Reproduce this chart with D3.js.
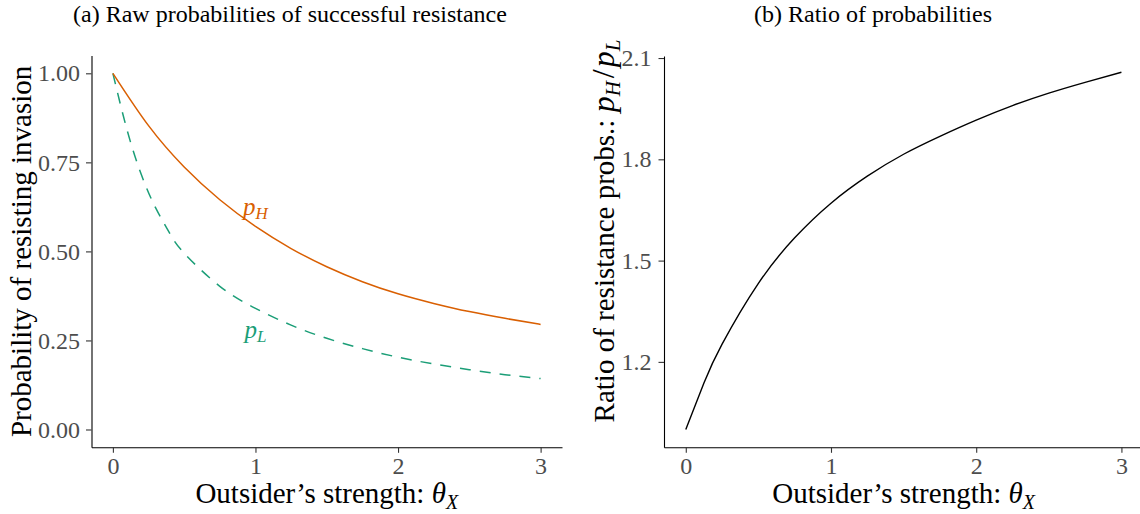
<!DOCTYPE html>
<html>
<head>
<meta charset="utf-8">
<script src="https://cdn.jsdelivr.net/npm/d3@7"></script>
<style>
body { margin: 0; background: #fff; }
svg text { font-family: "Liberation Serif", "Times New Roman", serif; }
</style>
</head>
<body>
<div id="viz"></div>
<script>
// values
var thetaH = [0, 0.25, 0.5, 0.75, 1, 1.25, 1.5, 1.75, 2, 2.25, 2.5, 2.75, 3];
var probH  = [1.00, 0.853, 0.737, 0.645, 0.570, 0.508, 0.457, 0.415, 0.381, 0.354, 0.331, 0.312, 0.295];

var thetaL = [0, 0.1, 0.2, 0.3, 0.4, 0.5, 0.75, 1, 1.25, 1.5, 1.75, 2, 2.25, 2.5, 2.75, 3];
var probL  = [1.00, 0.84, 0.715, 0.622, 0.55, 0.495, 0.402, 0.340, 0.293, 0.256, 0.227, 0.203, 0.184, 0.168, 0.154, 0.143];

var thetaR = [0, 0.125, 0.25, 0.5, 0.75, 1, 1.25, 1.5, 1.75, 2, 2.25, 2.5, 2.75, 3];
var ratio  = [1.00, 1.1375, 1.2525, 1.4325, 1.5675, 1.670, 1.750, 1.815, 1.868, 1.916, 1.959, 1.996, 2.028, 2.058];

var xTicks = [0, 1, 2, 3];
var probTicks = [0, 0.25, 0.5, 0.75, 1];
var ratioTicks = [1.2, 1.5, 1.8, 2.1];

var labels = [
	{x: 1, y: 0.625, sub: "H", color: "#D95F02"},
	{x: 1, y: 0.28, sub: "L", color: "#1B9E77"}
];

var W = 1140, H = 514;
var svg = d3.select("#viz").append("svg")
	.attr("width", W)
	.attr("height", H);

function zip(xs, ys){
	return xs.map(function(x, i){ return {x: x, y: ys[i]}; });
}

function styleAxis(g){
	g.select(".domain").attr("stroke", "#000").attr("stroke-width", 1.1);
	g.selectAll(".tick line").attr("stroke", "#333").attr("stroke-width", 1.1);
	g.selectAll(".tick text")
		.attr("fill", "#4D4D4D")
		.style("font-family", "Liberation Serif")
		.style("font-size", "24px");
}

// ---------- panel (a) ----------
var xA = d3.scaleLinear().domain([-0.15, 3.15]).range([91.5, 562]);
var yA = d3.scaleLinear().domain([-0.05, 1.05]).range([447.3, 55.5]);

var gA = svg.append("g");

gA.append("g")
	.attr("transform", "translate(0," + yA.range()[0] + ")")
	.call(d3.axisBottom(xA).tickValues(xTicks).tickFormat(d3.format("d"))
		.tickSize(5.5).tickSizeOuter(0).tickPadding(4))
	.call(styleAxis);

gA.append("g")
	.attr("transform", "translate(" + xA.range()[0] + ",0)")
	.call(d3.axisLeft(yA).tickValues(probTicks).tickFormat(d3.format(".2f"))
		.tickSize(5.5).tickSizeOuter(0).tickPadding(6))
	.call(styleAxis);

var lineA = d3.line()
	.x(function(d){ return xA(d.x); })
	.y(function(d){ return yA(d.y); })
	.curve(d3.curveNatural);

gA.append("path")
	.datum(zip(thetaL, probL))
	.attr("d", lineA)
	.attr("fill", "none")
	.attr("stroke", "#1B9E77")
	.attr("stroke-width", 1.5)
	.attr("stroke-dasharray", "11,9");

gA.append("path")
	.datum(zip(thetaH, probH))
	.attr("d", lineA)
	.attr("fill", "none")
	.attr("stroke", "#D95F02")
	.attr("stroke-width", 1.5);

var lab = gA.selectAll(".lab")
	.data(labels)
	.enter().append("text")
		.attr("class", "lab")
		.attr("x", function(d){ return xA(d.x); })
		.attr("y", function(d){ return yA(d.y); })
		.attr("dy", "0.32em")
		.attr("text-anchor", "middle")
		.attr("fill", function(d){ return d.color; })
		.style("font-size", "25px");
lab.append("tspan").style("font-style", "italic").text("p");
lab.append("tspan").style("font-style", "italic").style("font-size", "17px")
	.attr("dy", 4).text(function(d){ return d.sub; });

gA.append("text")
	.attr("x", 290).attr("y", 22)
	.attr("text-anchor", "middle")
	.style("font-size", "24px")
	.text("(a) Raw probabilities of successful resistance");

var xtA = gA.append("text")
	.attr("x", (xA.range()[0] + xA.range()[1]) / 2).attr("y", 503)
	.attr("text-anchor", "middle")
	.style("font-size", "29px");
xtA.append("tspan").text("Outsider\u2019s strength: ");
xtA.append("tspan").style("font-style", "italic").text("\u03B8");
xtA.append("tspan").style("font-style", "italic").style("font-size", "20px").attr("dy", 6).text("X");

gA.append("text")
	.attr("transform", "translate(31," + (yA.range()[0] + yA.range()[1]) / 2 + ") rotate(-90)")
	.attr("text-anchor", "middle")
	.style("font-size", "29px")
	.text("Probability of resisting invasion");

// ---------- panel (b) ----------
var xB = d3.scaleLinear().domain([-0.15, 3.15]).range([664, 1143.2]);
var yB = d3.scaleLinear().domain([0.947, 2.106]).range([447.3, 56]);

var gB = svg.append("g");

gB.append("g")
	.attr("transform", "translate(0," + yB.range()[0] + ")")
	.call(d3.axisBottom(xB).tickValues(xTicks).tickFormat(d3.format("d"))
		.tickSize(5.5).tickSizeOuter(0).tickPadding(4))
	.call(styleAxis);

gB.append("g")
	.attr("transform", "translate(" + xB.range()[0] + ",0)")
	.call(d3.axisLeft(yB).tickValues(ratioTicks).tickFormat(d3.format(".1f"))
		.tickSize(5.5).tickSizeOuter(0).tickPadding(7))
	.call(styleAxis);

var lineB = d3.line()
	.x(function(d){ return xB(d.x); })
	.y(function(d){ return yB(d.y); })
	.curve(d3.curveNatural);

gB.append("path")
	.datum(zip(thetaR, ratio))
	.attr("d", lineB)
	.attr("fill", "none")
	.attr("stroke", "#000")
	.attr("stroke-width", 1.4);

gB.append("text")
	.attr("x", 873).attr("y", 22)
	.attr("text-anchor", "middle")
	.style("font-size", "24px")
	.text("(b) Ratio of probabilities");

var xtB = gB.append("text")
	.attr("x", (xB(0) + xB(3)) / 2 + 0).attr("y", 503)
	.attr("text-anchor", "middle")
	.style("font-size", "29px");
xtB.append("tspan").text("Outsider\u2019s strength: ");
xtB.append("tspan").style("font-style", "italic").text("\u03B8");
xtB.append("tspan").style("font-style", "italic").style("font-size", "20px").attr("dy", 6).text("X");

var ytB = gB.append("text")
	.attr("transform", "translate(614,231) rotate(-90)")
	.attr("text-anchor", "middle")
	.style("font-size", "29px");
ytB.append("tspan").text("Ratio of resistance probs.: ");
ytB.append("tspan").style("font-style", "italic").style("font-size", "32px").text("p");
ytB.append("tspan").style("font-style", "italic").style("font-size", "21px").attr("dy", 6).text("H");
ytB.append("tspan").attr("dy", -6).attr("dx", 3).style("font-size", "32px").text("/");
ytB.append("tspan").attr("dx", 2).style("font-style", "italic").style("font-size", "32px").text("p");
ytB.append("tspan").style("font-style", "italic").style("font-size", "21px").attr("dy", 6).text("L");
</script>
</body>
</html>
